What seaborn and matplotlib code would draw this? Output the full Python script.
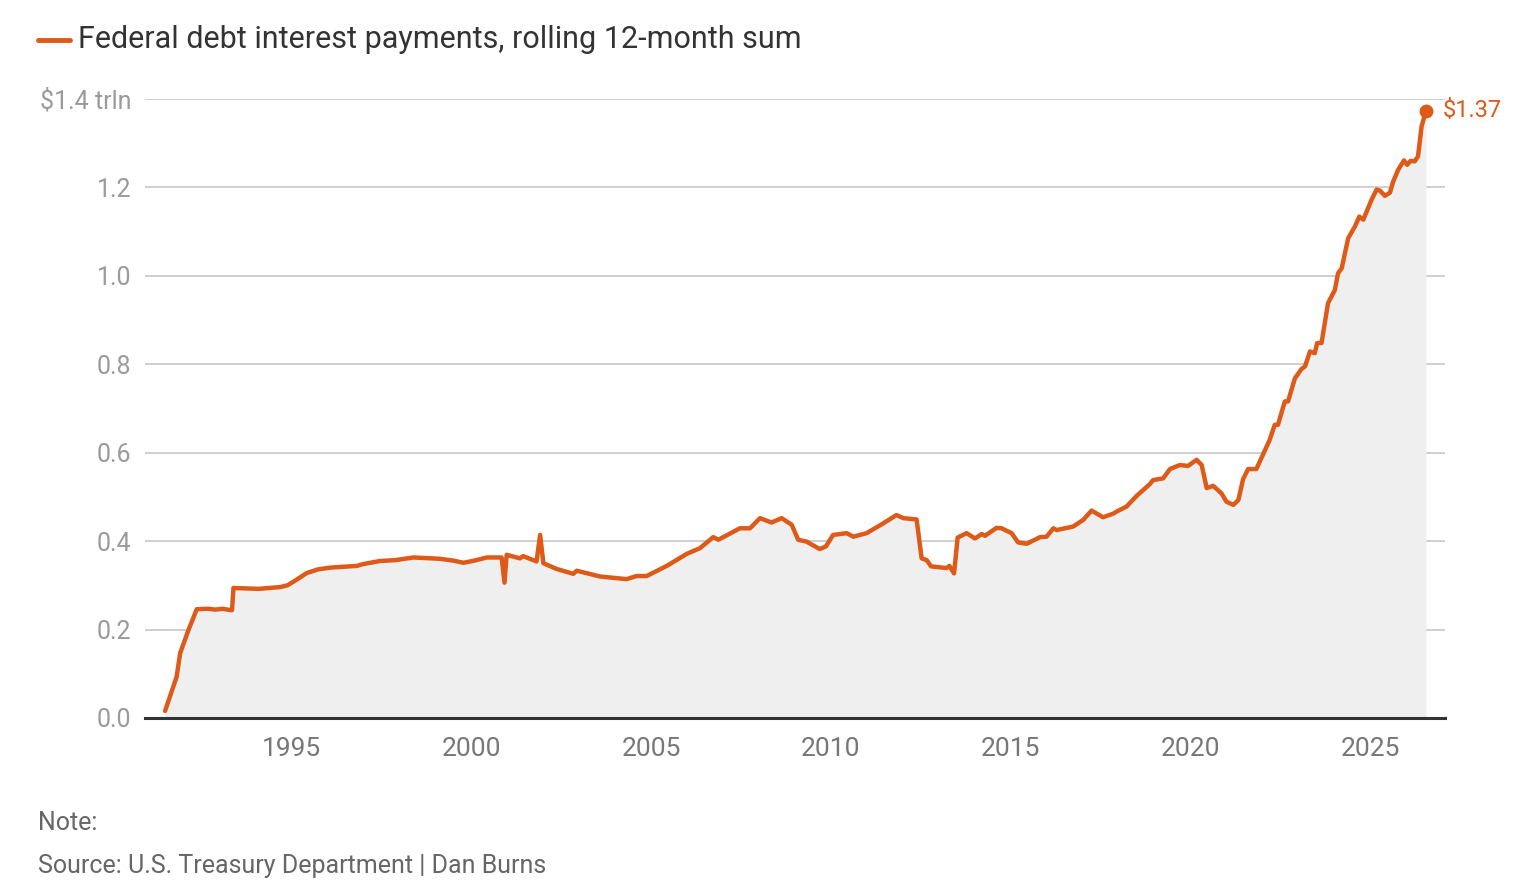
import pandas as pd
import matplotlib.pyplot as plt
import seaborn as sns
from matplotlib.lines import Line2D

# values (decimal year, $ trillion)
years = [1991.50, 1991.82, 1991.92, 1992.15, 1992.38, 1992.70, 1992.90, 1993.10, 1993.31, 1993.36,
         1993.40, 1993.80, 1994.10, 1994.69, 1994.90, 1995.10, 1995.44, 1995.75, 1996.08, 1996.83,
         1997.00, 1997.47, 1997.90, 1998.40, 1999.14, 1999.50, 1999.79, 2000.10, 2000.44, 2000.85,
         2000.93, 2000.99, 2001.36, 2001.45, 2001.82, 2001.92, 2002.01, 2002.38, 2002.84, 2002.94,
         2003.58, 2004.32, 2004.60, 2004.88, 2005.44, 2005.99, 2006.36, 2006.73, 2006.87, 2007.47,
         2007.75, 2008.03, 2008.35, 2008.63, 2008.91, 2009.09, 2009.32, 2009.69, 2009.86, 2010.06,
         2010.44, 2010.62, 2010.99, 2011.45, 2011.82, 2012.01, 2012.38, 2012.52, 2012.66, 2012.78,
         2013.21, 2013.29, 2013.42, 2013.52, 2013.77, 2014.00, 2014.19, 2014.28, 2014.60, 2014.74,
         2015.02, 2015.20, 2015.44, 2015.81, 2015.99, 2016.18, 2016.27, 2016.73, 2017.01, 2017.24,
         2017.56, 2017.84, 2017.94, 2018.21, 2018.49, 2018.86, 2018.95, 2019.23, 2019.42, 2019.69,
         2019.92, 2020.16, 2020.30, 2020.44, 2020.62, 2020.85, 2020.99, 2021.18, 2021.32, 2021.45,
         2021.59, 2021.82, 2022.06, 2022.19, 2022.33, 2022.42, 2022.61, 2022.70, 2022.89, 2023.07,
         2023.17, 2023.31, 2023.44, 2023.51, 2023.63, 2023.81, 2024.00, 2024.09, 2024.19, 2024.37,
         2024.56, 2024.68, 2024.79, 2025.02, 2025.16, 2025.25, 2025.39, 2025.53, 2025.62, 2025.76,
         2025.92, 2026.01, 2026.10, 2026.22, 2026.31, 2026.41, 2026.53]
interest = [0.016, 0.093, 0.147, 0.199, 0.246, 0.247, 0.245, 0.247, 0.244, 0.244,
            0.294, 0.293, 0.292, 0.296, 0.300, 0.310, 0.328, 0.336, 0.340, 0.344,
            0.348, 0.355, 0.357, 0.363, 0.360, 0.356, 0.351, 0.356, 0.363, 0.363,
            0.306, 0.369, 0.361, 0.366, 0.354, 0.414, 0.350, 0.337, 0.326, 0.333,
            0.320, 0.314, 0.321, 0.321, 0.344, 0.371, 0.384, 0.409, 0.403, 0.429,
            0.429, 0.452, 0.442, 0.452, 0.437, 0.403, 0.399, 0.382, 0.388, 0.414,
            0.418, 0.410, 0.418, 0.440, 0.459, 0.452, 0.449, 0.361, 0.357, 0.343,
            0.339, 0.344, 0.327, 0.408, 0.418, 0.406, 0.416, 0.412, 0.430, 0.429,
            0.418, 0.397, 0.394, 0.409, 0.410, 0.429, 0.425, 0.433, 0.448, 0.469,
            0.454, 0.462, 0.467, 0.478, 0.502, 0.529, 0.538, 0.542, 0.563, 0.572,
            0.570, 0.584, 0.572, 0.520, 0.525, 0.508, 0.489, 0.482, 0.493, 0.540,
            0.563, 0.563, 0.606, 0.629, 0.663, 0.663, 0.716, 0.716, 0.768, 0.789,
            0.795, 0.829, 0.825, 0.848, 0.848, 0.938, 0.968, 1.006, 1.017, 1.085,
            1.112, 1.134, 1.127, 1.172, 1.195, 1.193, 1.181, 1.188, 1.213, 1.240,
            1.261, 1.251, 1.260, 1.259, 1.270, 1.338, 1.373]

y_ticks = [0.0, 0.2, 0.4, 0.6, 0.8, 1.0, 1.2, 1.4]
y_labels = ['0.0', '0.2', '0.4', '0.6', '0.8', '1.0', '1.2', '$1.4 trln']
x_ticks = [1995, 2000, 2005, 2010, 2015, 2020, 2025]

df = pd.DataFrame({'year': years, 'interest': interest})

sns.set_style('white')
plt.rcParams['font.family'] = ['Roboto', 'DejaVu Sans']

orange = '#dd5a19'

fig = plt.figure(figsize=(15.32, 8.90), dpi=100)
ax = fig.add_axes([0.0946, 0.1933, 0.8486, 0.6955])

ax.fill_between(df['year'], 0, df['interest'], color='#efefef', lw=0, zorder=1)
sns.lineplot(data=df, x='year', y='interest', ax=ax, color=orange, lw=3.2,
             estimator=None, zorder=3, clip_on=False)
ax.plot(df['year'].iloc[-1], df['interest'].iloc[-1], 'o', color=orange,
        ms=9, zorder=4, clip_on=False)
ax.annotate('$1.37', (df['year'].iloc[-1], df['interest'].iloc[-1]),
            xytext=(12, 0), textcoords='offset points', va='center', ha='left',
            color=orange, fontsize=17)

ax.set_xlim(1990.94, 2027.06)
ax.set_ylim(0, 1.4)
ax.set_yticks(y_ticks)
ax.set_yticklabels(y_labels)
ax.set_xticks(x_ticks)
ax.set_xticklabels([str(t) for t in x_ticks])
ax.tick_params(axis='y', length=0, pad=10, labelsize=18, labelcolor='#9a9a9a')
ax.tick_params(axis='x', length=0, pad=14, labelsize=19, labelcolor='#777777')
ax.set_xlabel('')
ax.set_ylabel('')

ax.grid(axis='y', color='#cccccc', lw=1.3)
ax.grid(axis='x', visible=False)
ax.set_axisbelow(True)
for s in ['top', 'right', 'left']:
    ax.spines[s].set_visible(False)
ax.spines['bottom'].set_color('#333333')
ax.spines['bottom'].set_linewidth(2.2)
ax.spines['bottom'].set_zorder(5)

# legend-style header
fig.add_artist(Line2D([38 / 1532, 70 / 1532], [1 - 40 / 890, 1 - 40 / 890],
                      color=orange, lw=3.5, transform=fig.transFigure))
fig.text(78 / 1532, 1 - 40 / 890, 'Federal debt interest payments, rolling 12-month sum',
         va='center', ha='left', fontsize=22, color='#333333')

fig.text(38 / 1532, 1 - 823 / 890, 'Note:', va='center', ha='left',
         fontsize=18, color='#666666')
fig.text(38 / 1532, 1 - 866 / 890, 'Source: U.S. Treasury Department | Dan Burns',
         va='center', ha='left', fontsize=18, color='#666666')

plt.savefig('out.png', dpi=100)
